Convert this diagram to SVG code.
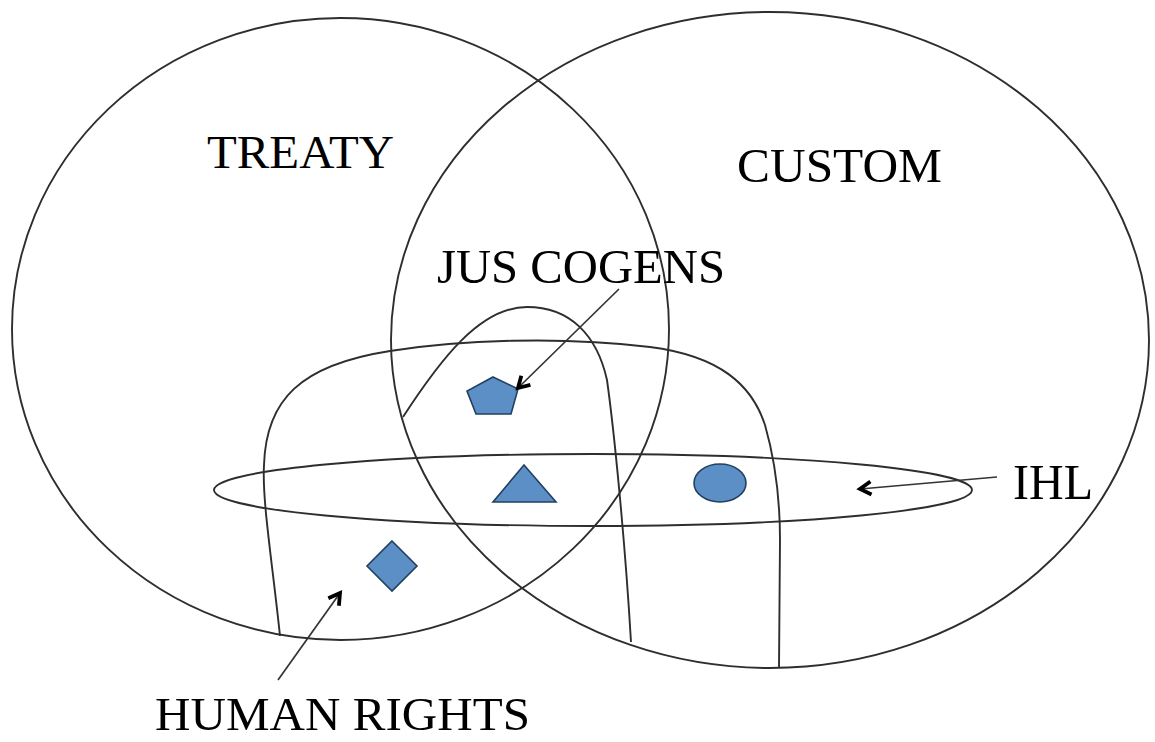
<svg xmlns="http://www.w3.org/2000/svg" width="1155" height="742" viewBox="0 0 1155 742">
<style>
.ln{fill:none;stroke:#2e2e2e;stroke-width:1.9}
.sh{fill:#5d8fc7;stroke:#22405f;stroke-width:1.6}
.lb{font-family:"Liberation Serif","Times New Roman",serif;fill:#000}
.ar{fill:none;stroke:#333;stroke-width:1.7}
</style>
<defs>
<marker id="ah" markerUnits="userSpaceOnUse" markerWidth="20" markerHeight="20" refX="14" refY="8" orient="auto" viewBox="0 0 20 16">
<path d="M3,1.5 L14,8 L3,14.5" fill="none" stroke="#000" stroke-width="3.8" stroke-linejoin="miter"/>
</marker>
</defs>
<rect width="1155" height="742" fill="#fff"/>
<g id="treaty">
<ellipse class="ln" cx="340.5" cy="329" rx="328.5" ry="311"/>
<text class="lb" x="207" y="168" font-size="47" textLength="187" lengthAdjust="spacingAndGlyphs">TREATY</text>
</g>
<g id="custom">
<ellipse class="ln" cx="770" cy="340" rx="379" ry="328"/>
<text class="lb" x="737" y="182" font-size="49" textLength="205" lengthAdjust="spacingAndGlyphs">CUSTOM</text>
</g>
<g id="jus-cogens-region">
<path class="ln" d="M403,417 C440,360 480,307 527,307 C570,307 597,335 607,380 C614,430 625,540 631,642"/>
</g>
<g id="human-rights-region">
<path class="ln" d="M280,636 C272,560 262,500 264,465 C266,400 300,365 390,351 C460,340 560,336 650,347 C720,356 752,385 765,425 C775,460 780,500 780,540 L779,667"/>
</g>
<g id="ihl">
<ellipse class="ln" cx="593" cy="490" rx="379" ry="36"/>
<text class="lb" x="1013" y="499" font-size="50" textLength="80" lengthAdjust="spacingAndGlyphs">IHL</text>
</g>
<g id="pentagon">
<polygon class="sh" points="493,377 518,389 511,414 476,414 467,391"/>
</g>
<g id="triangle">
<polygon class="sh" points="524,465 556,502 493,502"/>
</g>
<g id="circle">
<ellipse class="sh" cx="720" cy="483" rx="26" ry="19"/>
</g>
<g id="diamond">
<polygon class="sh" points="392,541 417,566 392,591 367,566"/>
</g>
<g id="label-jus-cogens">
<text class="lb" x="437" y="283" font-size="48.5" textLength="288" lengthAdjust="spacingAndGlyphs">JUS COGENS</text>
</g>
<g id="label-human-rights">
<text class="lb" x="155" y="730" font-size="47" textLength="375" lengthAdjust="spacingAndGlyphs">HUMAN RIGHTS</text>
</g>
<g id="connectors">
<line class="ar" x1="619" y1="289" x2="518" y2="388" marker-end="url(#ah)"/>
<line class="ar" x1="997" y1="477" x2="860" y2="489" marker-end="url(#ah)"/>
<line class="ar" x1="278" y1="680" x2="340" y2="593" marker-end="url(#ah)"/>
</g>
</svg>
